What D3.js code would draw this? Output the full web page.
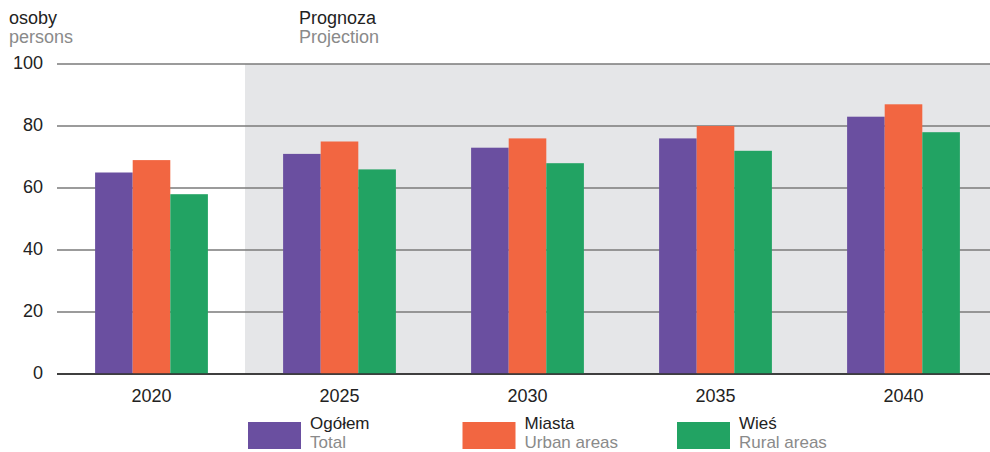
<!DOCTYPE html>
<html>
<head>
<meta charset="utf-8">
<script src="https://cdn.jsdelivr.net/npm/d3@7"></script>
<style>
body { margin:0; background:#fff; }
text { font-family:'Liberation Sans', Arial, sans-serif; }
</style>
</head>
<body>
<svg id="chart" width="990" height="452"></svg>
<script>
// data
var years = ['2020','2025','2030','2035','2040'];
var ogolem = [65, 71, 73, 76, 83];
var miasta = [69, 75, 76, 80, 87];
var wies = [58, 66, 68, 72, 78];
var yTicks = [0, 20, 40, 60, 80, 100];
var seriesPl = ['Ogółem','Miasta','Wieś'];
var seriesEn = ['Total','Urban areas','Rural areas'];

// colours
var colorPurple = '#6a4fa0';
var colorOrange = '#f26641';
var colorGreen = '#22a363';
var colorGrid = '#7a7a7a';
var colorShade = '#e5e6e8';
var colorText = '#222222';
var colorGrey = '#8a8a8a';
var colors = [colorPurple, colorOrange, colorGreen];

var fontSize = 18;
var legendSize = 17;

var svg = d3.select('#chart');

var x = d3.scaleBand()
          .domain(years)
          .range([57.5, 997.5])
          .paddingInner(0.4)
          .paddingOuter(0.2);
var xs = d3.scaleBand()
           .domain([0,1,2])
           .range([0, x.bandwidth()]);
var y = d3.scaleLinear()
          .domain([0, 100])
          .range([374, 64]);

// projection shade
svg.append('rect')
   .attr('x',245)
   .attr('y',y(100))
   .attr('width',990-245)
   .attr('height',y(0)-y(100))
   .attr('fill',colorShade);

// grid
svg.selectAll('.grid')
   .data(yTicks)
   .enter().append('line')
   .attr('x1',57)
   .attr('x2',990)
   .attr('y1',function(d){ return y(d); })
   .attr('y2',function(d){ return y(d); })
   .attr('stroke',function(d){ return d === 0 ? '#333' : colorGrid; })
   .attr('stroke-width',1.5);

svg.selectAll('.ytick')
   .data(yTicks)
   .enter().append('text')
   .text(function(d){ return d; })
   .attr('x',43)
   .attr('y',function(d){ return y(d); })
   .attr('dy','0.3em')
   .attr('text-anchor','end')
   .style('font-size',fontSize)
   .style('fill',colorText);

// bars
var rows = years.map(function(yr,i){ return [ogolem[i], miasta[i], wies[i]]; });
var groups = svg.selectAll('.grp')
                .data(rows)
                .enter().append('g')
                .attr('transform',function(d,i){ return 'translate(' + x(years[i]) + ',0)'; });
groups.selectAll('rect')
      .data(function(d){ return d; })
      .enter().append('rect')
      .attr('x',function(d,j){ return xs(j); })
      .attr('y',function(d){ return y(d); })
      .attr('width',xs.bandwidth())
      .attr('height',function(d){ return y(0) - y(d); })
      .attr('fill',function(d,j){ return colors[j]; });

// baseline on top
svg.append('line')
   .attr('x1',57)
   .attr('x2',990)
   .attr('y1',y(0))
   .attr('y2',y(0))
   .attr('stroke','#333')
   .attr('stroke-width',1.5);

svg.selectAll('.xlab')
   .data(years)
   .enter().append('text')
   .text(function(d){ return d; })
   .attr('x',function(d){ return x(d) + x.bandwidth()/2; })
   .attr('y',402)
   .attr('text-anchor','middle')
   .style('font-size',fontSize)
   .style('fill',colorText);

// headings
svg.append('text').text('osoby')
   .attr('x',9).attr('y',24)
   .style('font-size',fontSize).style('fill',colorText);
svg.append('text').text('persons')
   .attr('x',9).attr('y',43)
   .style('font-size',fontSize).style('fill',colorGrey);
svg.append('text').text('Prognoza')
   .attr('x',299).attr('y',24)
   .style('font-size',fontSize).style('fill',colorText);
svg.append('text').text('Projection')
   .attr('x',299).attr('y',43)
   .style('font-size',fontSize).style('fill',colorGrey);

// legend
var legend = svg.selectAll('.leg')
                .data(seriesPl)
                .enter().append('g')
                .attr('transform',function(d,i){ return 'translate(' + (248 + i*214.5) + ',0)'; });
legend.append('rect')
      .attr('x',0)
      .attr('y',422)
      .attr('width',53)
      .attr('height',27)
      .attr('fill',function(d,i){ return colors[i]; });
legend.append('text')
      .text(function(d){ return d; })
      .attr('x',62)
      .attr('y',428.5)
      .style('font-size',legendSize)
      .style('fill',colorText);
legend.append('text')
      .text(function(d,i){ return seriesEn[i]; })
      .attr('x',62)
      .attr('y',448)
      .style('font-size',legendSize)
      .style('fill',colorGrey);
</script>
</body>
</html>
